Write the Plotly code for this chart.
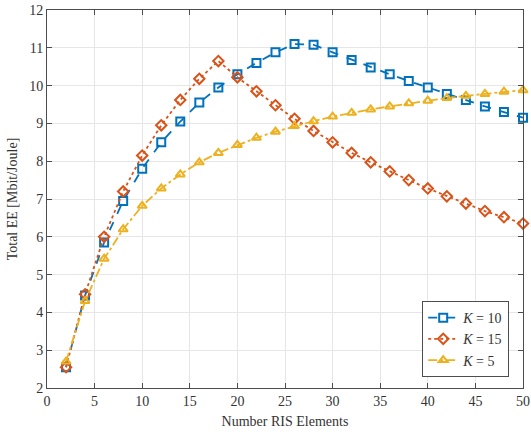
import plotly.graph_objects as go

# Number of RIS elements
ris_elements = list(range(2, 51, 2))

# Total energy efficiency [Mbit/Joule] for each number of users K
ee_k10 = [2.55, 4.45, 5.85, 6.95, 7.80, 8.50, 9.05, 9.55, 9.95, 10.30, 10.60, 10.88, 11.10,
          11.08, 10.88, 10.68, 10.48, 10.30, 10.12, 9.95, 9.78, 9.62, 9.45, 9.30, 9.15]
ee_k15 = [2.55, 4.48, 6.00, 7.20, 8.15, 8.95, 9.62, 10.18, 10.65, 10.22, 9.85, 9.48, 9.12,
          8.80, 8.50, 8.22, 7.97, 7.73, 7.50, 7.28, 7.07, 6.88, 6.68, 6.52, 6.35]
ee_k5 = [2.70, 4.30, 5.42, 6.20, 6.82, 7.28, 7.65, 7.97, 8.22, 8.43, 8.62, 8.78, 8.93,
         9.06, 9.18, 9.28, 9.37, 9.45, 9.53, 9.60, 9.67, 9.73, 9.78, 9.84, 9.88]

x_ticks = list(range(0, 51, 5))
y_ticks = list(range(2, 13))

series = [
    ("<i>K</i> = 10", ee_k10, "#0072BD", "dash", "square-open"),
    ("<i>K</i> = 15", ee_k15, "#D95319", "dot", "diamond-open"),
    ("<i>K</i> = 5", ee_k5, "#EDB120", "dashdot", "triangle-up-open"),
]

fig = go.Figure()
for name, vals, color, dash, symbol in series:
    fig.add_trace(go.Scatter(
        x=ris_elements, y=vals, name=name, mode="lines+markers",
        line=dict(color=color, width=1.8, dash=dash),
        marker=dict(symbol=symbol, size=8, color=color, line=dict(color=color, width=2)),
        cliponaxis=False,
    ))

axis_common = dict(
    showgrid=True, gridcolor="#e6e6e6", gridwidth=1,
    showline=True, linecolor="#4d4d4d", linewidth=1, mirror="ticks",
    ticks="inside", ticklen=5, tickcolor="#4d4d4d",
    zeroline=False, ticklabeloverflow="allow", automargin=False,
    tickfont=dict(family="Liberation Serif", size=14, color="#333333"),
)

fig.update_layout(
    width=531, height=434,
    margin=dict(l=47, r=8, t=10, b=46),
    paper_bgcolor="white", plot_bgcolor="white",
    font=dict(family="Liberation Serif", size=14, color="#333333"),
    xaxis=dict(range=[0, 50], tickvals=x_ticks,
               title=dict(text="Number RIS Elements", standoff=8,
                          font=dict(family="Liberation Serif", size=14, color="#333333")),
               **axis_common),
    yaxis=dict(range=[2, 12], tickvals=y_ticks,
               title=dict(text="Total EE [Mbit/Joule]", standoff=8,
                          font=dict(family="Liberation Serif", size=14, color="#333333")),
               **axis_common),
    legend=dict(x=0.971, y=0.029, xanchor="right", yanchor="bottom",
                bgcolor="white", bordercolor="#4d4d4d", borderwidth=1,
                font=dict(family="Liberation Serif", size=14, color="#333333"),
                tracegroupgap=0, itemwidth=30),
    showlegend=True,
)

fig.write_html("out.html")
